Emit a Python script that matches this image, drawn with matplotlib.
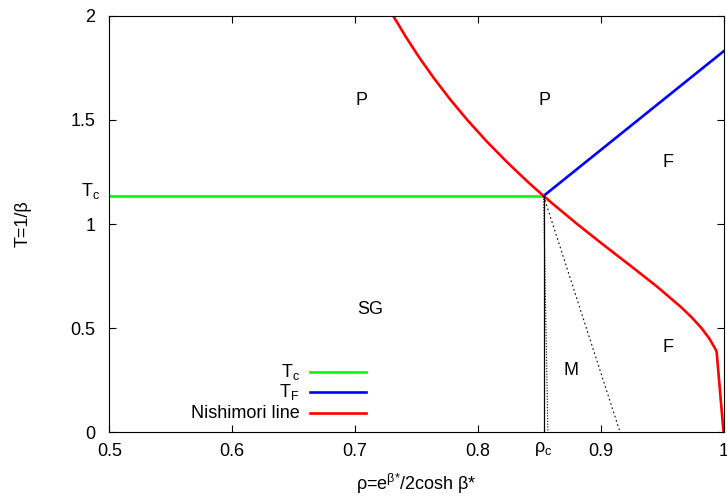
# -*- coding:utf-8 -*-
# Desc: 相图 (phase diagram), gnuplot style
import matplotlib
matplotlib.use('Agg')
from matplotlib import pyplot as plt

plt.rcParams['font.family'] = ['Liberation Sans', 'DejaVu Sans']
plt.rcParams['font.size'] = 13
plt.rcParams['mathtext.fontset'] = 'custom'
plt.rcParams['mathtext.rm'] = 'Liberation Sans'
plt.rcParams['mathtext.it'] = 'Liberation Sans'
plt.rcParams['mathtext.default'] = 'regular'

# critical point
rho_c = 0.8535
T_c = 1.135

# Nishimori line
nish_T = [2.0, 1.9, 1.8, 1.7, 1.6, 1.5, 1.4, 1.3, 1.2, 1.135, 1.1, 1.0,
          0.9, 0.8, 0.7, 0.6, 0.55, 0.5, 0.45, 0.4, 0.386, 0.0]
nish_rho = [0.7311, 0.7413, 0.7523, 0.7643, 0.7773, 0.7914, 0.8067, 0.8233,
            0.8411, 0.8535, 0.8604, 0.8808, 0.9022, 0.9241, 0.9457, 0.9655,
            0.9743, 0.9820, 0.9884, 0.9933, 0.9944, 1.0]

# T_F line
tf_rho = [0.8535, 1.0]
tf_T = [1.135, 1.83]

# T_c line
tc_rho = [0.5, 0.8535]
tc_T = [1.135, 1.135]

# boundaries below the critical point (dotted)
dot1_rho = [0.8535, 0.857]
dot2_rho = [0.8535, 0.9157]
dot_T = [1.135, 0.0]

# phase labels
phase_names = ['P', 'P', 'F', 'F', 'SG', 'M']
phase_rho = [0.7054, 0.8545, 0.9548, 0.9548, 0.7119, 0.8757]
phase_T = [1.596, 1.596, 1.298, 0.404, 0.587, 0.298]

xticks = [0.5, 0.6, 0.7, 0.8, 0.9, 1.0]
xtick_labels = ['0.5', '0.6', '0.7', '0.8', '0.9', '1']
yticks = [0, 0.5, 1, 1.5, 2]
ytick_labels = ['0', '0.5', '1', '1.5', '2']

fig = plt.figure(figsize=(7.27, 4.98), dpi=100)
ax = fig.add_axes([0.1506, 0.1325, 0.8446, 0.8354])

ax.plot(tc_rho, tc_T, color='#00ff00', lw=1.9)
ax.plot(tf_rho, tf_T, color='#0000ff', lw=1.9)
ax.plot(nish_rho, nish_T, color='#ff0000', lw=1.9)
ax.plot([rho_c, rho_c], [0, T_c], color='black', lw=0.9)
ax.plot(dot1_rho, dot_T, color='black', lw=0.8, ls=(0, (1, 1.5)))
ax.plot(dot2_rho, dot_T, color='black', lw=0.8, ls=(0, (1.5, 2.5)))

for name, r, t in zip(phase_names, phase_rho, phase_T):
    ax.text(r, t, name, ha='center', va='center')

ax.set_xlim(0.5, 1.0)
ax.set_ylim(0, 2)
ax.set_xticks(xticks)
ax.set_xticklabels(xtick_labels)
ax.set_yticks(yticks)
ax.set_yticklabels(ytick_labels)
ax.tick_params(direction='in', top=True, right=True, length=5, width=0.8)
ax.tick_params(axis='x', pad=8)
ax.tick_params(axis='y', pad=10)

# T_c and rho_c labels on the axes
ax.text(-0.016, T_c, 'T$_c$', transform=ax.get_yaxis_transform(), ha='right', va='baseline')
ax.text(rho_c, -0.018, 'ρ$_c$', transform=ax.get_xaxis_transform(), ha='center', va='top')

ax.set_xlabel('ρ=e$^{\\beta{*}}$/2cosh β*')
ax.xaxis.set_label_coords(0.5, -0.097)
ax.set_ylabel('T=1/β')
ax.yaxis.set_label_coords(-0.14, 0.5)
ax.yaxis.label.set_va('center')

# 图例 (legend, gnuplot style: text right-aligned, sample on the right)
leg_labels = ['T$_c$', 'T$_F$', 'Nishimori line']
leg_colors = ['#00ff00', '#0000ff', '#ff0000']
leg_y = [0.144, 0.096, 0.0457]
for lab, col, y in zip(leg_labels, leg_colors, leg_y):
    ax.text(0.3097, y, lab, transform=ax.transAxes, ha='right', va='center')
    ax.plot([0.326, 0.417], [y, y], color=col, lw=1.9, transform=ax.transAxes)

fig.savefig('out.png', dpi=100)
